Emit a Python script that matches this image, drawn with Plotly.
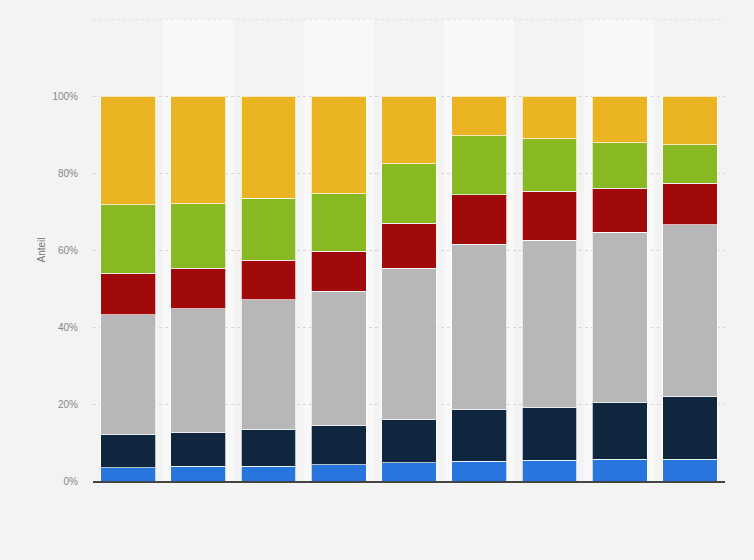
import plotly.graph_objects as go

# Kategorien (keine Beschriftung im Original sichtbar)
kategorien = ["1", "2", "3", "4", "5", "6", "7", "8", "9"]

# Anteile je Segment in Prozent, von unten nach oben
blau = [3.5, 3.8, 3.8, 4.2, 4.7, 5.1, 5.4, 5.7, 5.7]
dunkelblau = [8.7, 8.9, 9.7, 10.1, 11.4, 13.4, 13.6, 14.6, 16.2]
grau = [31.0, 32.1, 33.6, 35.0, 39.1, 43.0, 43.5, 44.3, 44.6]
rot = [10.7, 10.4, 10.2, 10.4, 11.7, 12.8, 12.8, 11.5, 10.9]
gruen = [17.8, 16.8, 16.1, 14.9, 15.5, 15.4, 13.6, 11.7, 9.9]
gelb = [28.3, 28.0, 26.6, 25.4, 17.6, 10.3, 11.1, 12.2, 12.7]

tick_werte = [0, 20, 40, 60, 80, 100]
tick_texte = ["0%", "20%", "40%", "60%", "80%", "100%"]
y_max = 120

serien = [
    ("Segment 1", blau, "#2876dd"),
    ("Segment 2", dunkelblau, "#0f263e"),
    ("Segment 3", grau, "#b7b7b7"),
    ("Segment 4", rot, "#a10a0a"),
    ("Segment 5", gruen, "#88b922"),
    ("Segment 6", gelb, "#eab422"),
]

fig = go.Figure()
for name, werte, farbe in serien:
    fig.add_trace(go.Bar(
        x=kategorien, y=werte, name=name,
        marker=dict(color=farbe, line=dict(color="rgba(255,255,255,0.7)", width=1)),
    ))

# helle Spaltenbänder hinter jeder zweiten Kategorie
shapes = []
for i in range(1, len(kategorien), 2):
    shapes.append(dict(type="rect", xref="x", yref="paper", x0=i - 0.5, x1=i + 0.5,
                       y0=0, y1=1, fillcolor="#f8f8f8", line=dict(width=0), layer="below"))
    shapes.append(dict(type="rect", xref="x", yref="paper", x0=i - 0.5, x1=i + 0.5,
                       y0=-0.2, y1=0, fillcolor="#f4f4f4", line=dict(width=0), layer="below"))
# oberste Gitterlinie ohne Beschriftung
shapes.append(dict(type="line", xref="paper", yref="y", x0=0, x1=1, y0=y_max, y1=y_max,
                   line=dict(color="#d6d6d6", width=1, dash="dot"), layer="below"))

fig.update_layout(
    barmode="stack",
    bargap=0.22,
    width=754,
    height=560,
    showlegend=False,
    paper_bgcolor="#f3f3f3",
    plot_bgcolor="#f3f3f3",
    margin=dict(l=93, r=29, t=19, b=79),
    font=dict(family="Liberation Sans, Arial, sans-serif", size=10, color="#888888"),
    shapes=shapes,
    xaxis=dict(
        showticklabels=False,
        showgrid=False,
        showline=True,
        linecolor="#444444",
        linewidth=1.5,
        ticks="",
    ),
    yaxis=dict(
        title=dict(text="Anteil", font=dict(size=10, color="#777777"), standoff=4),
        range=[0, y_max],
        tickvals=tick_werte,
        ticktext=tick_texte,
        showgrid=True,
        gridcolor="#d6d6d6",
        griddash="dot",
        zeroline=False,
        ticks="",
        ticklabelstandoff=14,
    ),
)

fig.write_html("out.html", config={"displayModeBar": False},
               post_script="document.body.style.margin='0';")
